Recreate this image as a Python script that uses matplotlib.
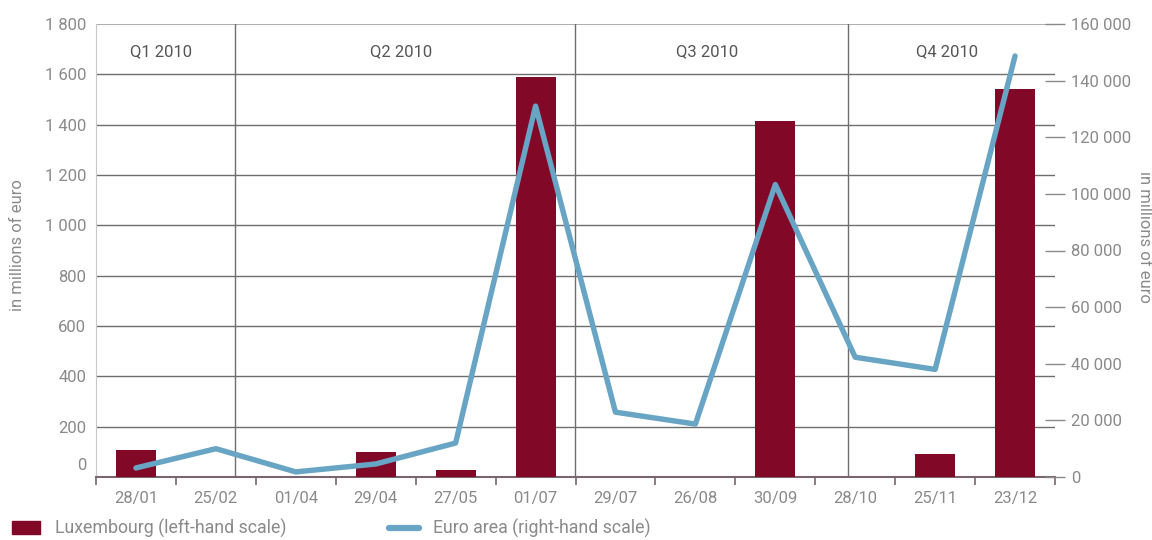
import matplotlib.pyplot as plt
from matplotlib.patches import Rectangle
from matplotlib.lines import Line2D
from matplotlib.transforms import ScaledTranslation

plt.rcParams['font.family'] = ['Roboto', 'DejaVu Sans']

dates = ['28/01', '25/02', '01/04', '29/04', '27/05', '01/07',
         '29/07', '26/08', '30/09', '28/10', '25/11', '23/12']
luxembourg = [107, 0, 0, 99, 28, 1591, 0, 0, 1413, 0, 91, 1540]
euro_area = [3200, 10000, 1800, 4600, 12000, 131000,
             22900, 18700, 103300, 42300, 38000, 148700]
quarters = ['Q1 2010', 'Q2 2010', 'Q3 2010', 'Q4 2010']
quarter_breaks = [1.24, 5.49, 8.91]

bar_color = '#820828'
line_color = '#68a4c4'
text_color = '#8a8a8a'
grid_color = '#6e6e6e'


def spaced(v, pos=None):
    return f'{int(v):,}'.replace(',', ' ')


fig = plt.figure(figsize=(11.52, 5.4), dpi=100)
ax = fig.add_axes([96 / 1152, 1 - 477 / 540, 959 / 1152, 453 / 540])
ax2 = ax.twinx()

x = list(range(len(dates)))
ax.bar(x, luxembourg, width=0.5, color=bar_color, zorder=3)
ax2.plot(x, euro_area, color=line_color, linewidth=3.9,
         solid_capstyle='round', solid_joinstyle='round', zorder=4)
ax2.set_zorder(ax.get_zorder() + 1)
ax2.patch.set_visible(False)

ax.set_xlim(-0.5, 11.5)
ax.set_ylim(0, 1800)
ax2.set_ylim(0, 160000)

# left axis: gridlines only, no tick marks
ax.set_yticks(range(0, 1801, 200))
ax.yaxis.set_major_formatter(spaced)
ax.tick_params(axis='y', length=0, pad=7, labelsize=12, labelcolor=text_color)
for v in range(200, 1601, 200):
    ax.axhline(v, color=grid_color, linewidth=1.0, zorder=1)
ax.axhline(1800, color='#b0b0b0', linewidth=1.5, zorder=1)
for lab in ax.get_yticklabels():
    if lab.get_text() == '0':
        lab.set_transform(lab.get_transform() +
                          ScaledTranslation(0, 9 / 72, fig.dpi_scale_trans))

# bottom axis: ticks between categories
ax.set_xticks(x)
ax.set_xticklabels(dates)
ax.set_xticks([i - 0.5 for i in range(len(dates) + 1)], minor=True)
ax.tick_params(axis='x', which='major', length=0, pad=10, labelsize=12,
               labelcolor=text_color)
ax.tick_params(axis='x', which='minor', length=6, width=1.2, color='#7a6670')

for s in ['top', 'right']:
    ax.spines[s].set_visible(False)
ax.spines['left'].set_color('#c8c8c8')
ax.spines['bottom'].set_color('#7a6670')
ax.spines['bottom'].set_linewidth(1.5)
for s in ax2.spines.values():
    s.set_visible(False)

# right axis ticks cross the edge
ax2.set_yticks(range(0, 160001, 20000))
ax2.yaxis.set_major_formatter(spaced)
ax2.tick_params(axis='y', direction='inout', length=15, width=1.0,
                color='#8a8a8a', pad=4, labelsize=12, labelcolor=text_color)

# quarter separators and labels
for b in quarter_breaks:
    ax.axvline(b, color=grid_color, linewidth=1.0, zorder=2)
edges = [-0.5] + quarter_breaks + [11.5]
for q, (a, b) in zip(quarters, zip(edges[:-1], edges[1:])):
    ax.text((a + b) / 2 - 0.05, 1690, q, ha='center', va='center',
            fontsize=12, color='#555555', zorder=5)

fig.text(18 / 1152, 1 - 245 / 540, 'in millions of euro', rotation=90,
         ha='center', va='center', fontsize=12, color=text_color)
fig.text(1144 / 1152, 1 - 237 / 540, 'in millions of euro', rotation=270,
         ha='center', va='center', fontsize=12, color=text_color)

# legend along the bottom edge
leg_y = 1 - 528 / 540
fig.patches.append(Rectangle((12 / 1152, leg_y - 6 / 540), 28 / 1152, 13 / 540,
                             transform=fig.transFigure, color=bar_color))
fig.text(55 / 1152, leg_y, 'Luxembourg (left-hand scale)',
         va='center', fontsize=12.8, color=text_color)
fig.lines.append(Line2D([389 / 1152, 419 / 1152], [leg_y] * 2,
                        transform=fig.transFigure, color=line_color,
                        linewidth=4.5, solid_capstyle='round'))
fig.text(433 / 1152, leg_y, 'Euro area (right-hand scale)',
         va='center', fontsize=12.8, color=text_color)

fig.savefig('out.png', dpi=100)
